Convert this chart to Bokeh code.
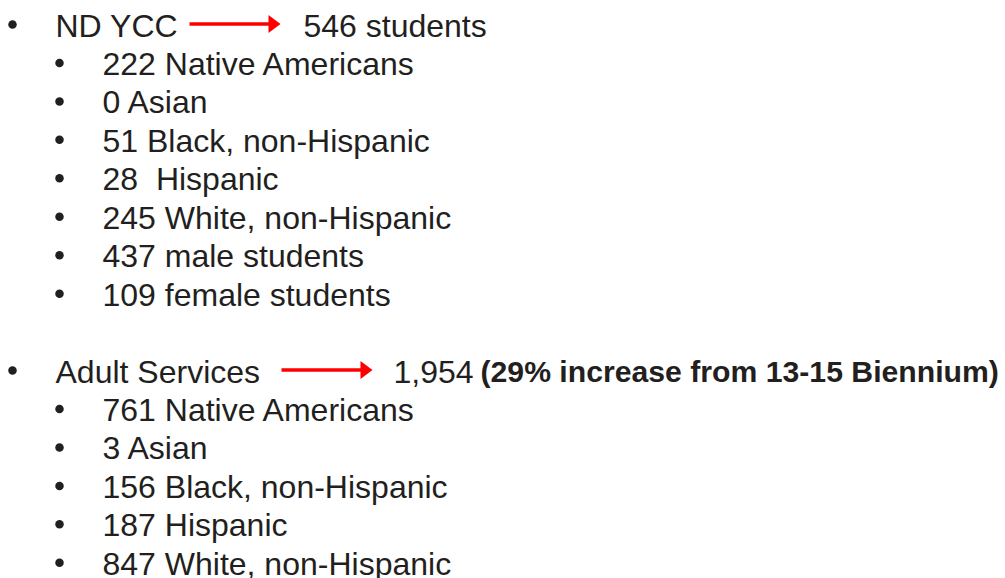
from bokeh.plotting import figure
from bokeh.models import Range1d
from bokeh.core.properties import value
from bokeh.embed import file_html
from bokeh.resources import INLINE

# ---- content ----
headings = ["ND YCC", "Adult Services"]
totals = ["546 students", "1,954"]
note = "(29% increase from 13-15 Biennium)"
ycc_items = ["222 Native Americans", "0 Asian", "51 Black, non-Hispanic",
             "28\u00a0 Hispanic", "245 White, non-Hispanic", "437 male students",
             "109 female students"]
adult_items = ["761 Native Americans", "3 Asian", "156 Black, non-Hispanic",
               "187 Hispanic", "847 White, non-Hispanic"]

# ---- layout (pixel space; y grows downward) ----
W, H = 1005, 578
ROW0, ROW_H = 25.0, 38.45   # vertical centre of first row, row pitch
X_B1, X_T1 = 12, 55         # level-1 bullet / text
X_B2, X_T2 = 59, 102        # level-2 bullet / text
TOTAL_X = [303, 393]
NOTE_X = 480
ARROWS = [(189, 280), (281, 372)]
FONT = "Liberation Sans"
COLOR = "#231F20"
FS = "32px"

p = figure(width=W, height=H, output_backend="svg", toolbar_location=None,
           x_range=Range1d(0, W), y_range=Range1d(H, 0),
           min_border=0, outline_line_color=None,
           x_axis_location=None, y_axis_location=None)
p.xgrid.visible = False
p.ygrid.visible = False
p.background_fill_color = "white"
p.border_fill_color = "white"

groups = [(headings[0], ycc_items, 0), (headings[1], adult_items, 9)]
l1_x, l1_y, l1_t = [], [], []
l2_x, l2_y, l2_t = [], [], []
bx, by = [], []
head_rows = []
for head, items, r0 in groups:
    y = ROW0 + ROW_H * r0
    head_rows.append(y)
    l1_x.append(X_T1); l1_y.append(y); l1_t.append(head)
    bx.append(X_B1); by.append(y - 1)
    for i, it in enumerate(items):
        yy = ROW0 + ROW_H * (r0 + 1 + i)
        l2_x.append(X_T2); l2_y.append(yy); l2_t.append(it)
        bx.append(X_B2); by.append(yy - 1)

common = dict(text_font=value(FONT), text_color=COLOR,
              text_baseline="middle", text_align="left")
p.text(x=l1_x, y=l1_y, text=l1_t, text_font_size=FS, **common)
p.text(x=l2_x, y=l2_y, text=l2_t, text_font_size=FS, **common)
p.text(x=TOTAL_X, y=head_rows, text=totals, text_font_size=FS, **common)
p.text(x=[NOTE_X], y=[head_rows[1]], text=[note], text_font_size="30.2px",
       text_font_style="bold", **common)

p.scatter(bx, by, marker="circle", size=8.5, fill_color=COLOR, line_color=None)

# arrows
HEAD_L, HEAD_HW = 12, 9
for (xs, xe), yc in zip(ARROWS, head_rows):
    ya = yc - 1.5
    p.line([xs, xe - HEAD_L + 1], [ya, ya], line_color="#FF0000", line_width=3.5)
    p.patch([xe - HEAD_L, xe, xe - HEAD_L], [ya - HEAD_HW, ya, ya + HEAD_HW],
            fill_color="#FF0000", line_color=None)

open("out.html", "w").write(file_html(p, INLINE))
